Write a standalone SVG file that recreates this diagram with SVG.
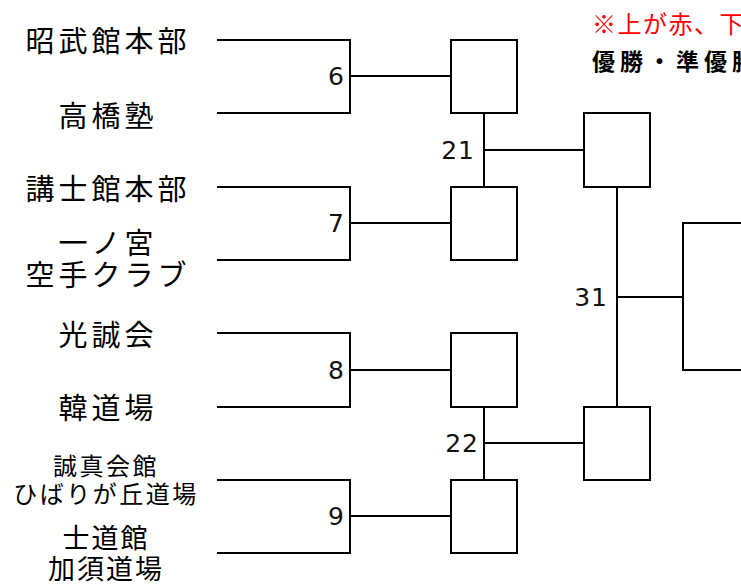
<svg xmlns="http://www.w3.org/2000/svg" width="741" height="584" viewBox="0 0 741 584">
<style>
.ln{stroke:#000;stroke-width:2;fill:none}
.bx{stroke:#000;stroke-width:2;fill:#fff}
.tm{font-family:"Noto Sans CJK JP","Noto Sans",sans-serif;font-size:29px;fill:#000;text-anchor:middle;letter-spacing:4px}
.sm{font-size:24px;letter-spacing:2.5px}
.md{font-size:27px;letter-spacing:2px}
.nm{font-family:"DejaVu Sans",sans-serif;font-size:25px;fill:#111;text-anchor:end;letter-spacing:1px}
</style>
<rect width="741" height="584" fill="#fff"/>
<g id="connectors">
<path class="ln" d="M217 40H350V113H217M350 76H451"/>
<path class="ln" d="M217 187H350V260H217M350 223H451"/>
<path class="ln" d="M217 333H350V407H217M350 370H451"/>
<path class="ln" d="M217 480H350V553H217M350 516H451"/>
<path class="ln" d="M484 113V187M484 150H584"/>
<path class="ln" d="M484 407V480M484 443H584"/>
<path class="ln" d="M617 187V407M617 297H683"/>
</g>
<g id="teams">
<text class="tm" x="108" y="52">昭武館本部</text>
<text class="tm" x="108" y="127">高橋塾</text>
<text class="tm" x="108" y="200">講士館本部</text>
<text class="tm" x="108" y="254">一ノ宮</text>
<text class="tm" x="108" y="286">空手クラブ</text>
<text class="tm" x="108" y="346">光誠会</text>
<text class="tm" x="108" y="419">韓道場</text>
<text class="tm sm" x="106" y="475">誠真会館</text>
<text class="tm sm" x="106" y="503">ひばりが丘道場</text>
<text class="tm md" x="106" y="548">士道館</text>
<text class="tm md" x="106" y="579">加須道場</text>
</g>
<g id="m6"><rect class="bx" x="451" y="40" width="66" height="73"/><text class="nm" x="345" y="85">6</text></g>
<g id="m7"><rect class="bx" x="451" y="187" width="66" height="73"/><text class="nm" x="345" y="232">7</text></g>
<g id="m8"><rect class="bx" x="451" y="333" width="66" height="74"/><text class="nm" x="345" y="379">8</text></g>
<g id="m9"><rect class="bx" x="451" y="480" width="66" height="73"/><text class="nm" x="345" y="525">9</text></g>
<g id="m21"><rect class="bx" x="584" y="113" width="66" height="74"/><text class="nm" x="475" y="159">21</text></g>
<g id="m22"><rect class="bx" x="584" y="407" width="66" height="73"/><text class="nm" x="479" y="452">22</text></g>
<g id="m31"><rect class="bx" x="683" y="223" width="80" height="147"/><text class="nm" x="608" y="306">31</text></g>
<g id="note">
<text x="592" y="33" font-family="Noto Sans CJK JP,sans-serif" font-size="24" fill="#ff0000" letter-spacing="1.5">※上が赤、下</text>
<text x="592" y="70" font-family="Noto Sans CJK JP,sans-serif" font-size="23" font-weight="bold" fill="#000" letter-spacing="5">優勝・準優勝</text>
</g>
</svg>
